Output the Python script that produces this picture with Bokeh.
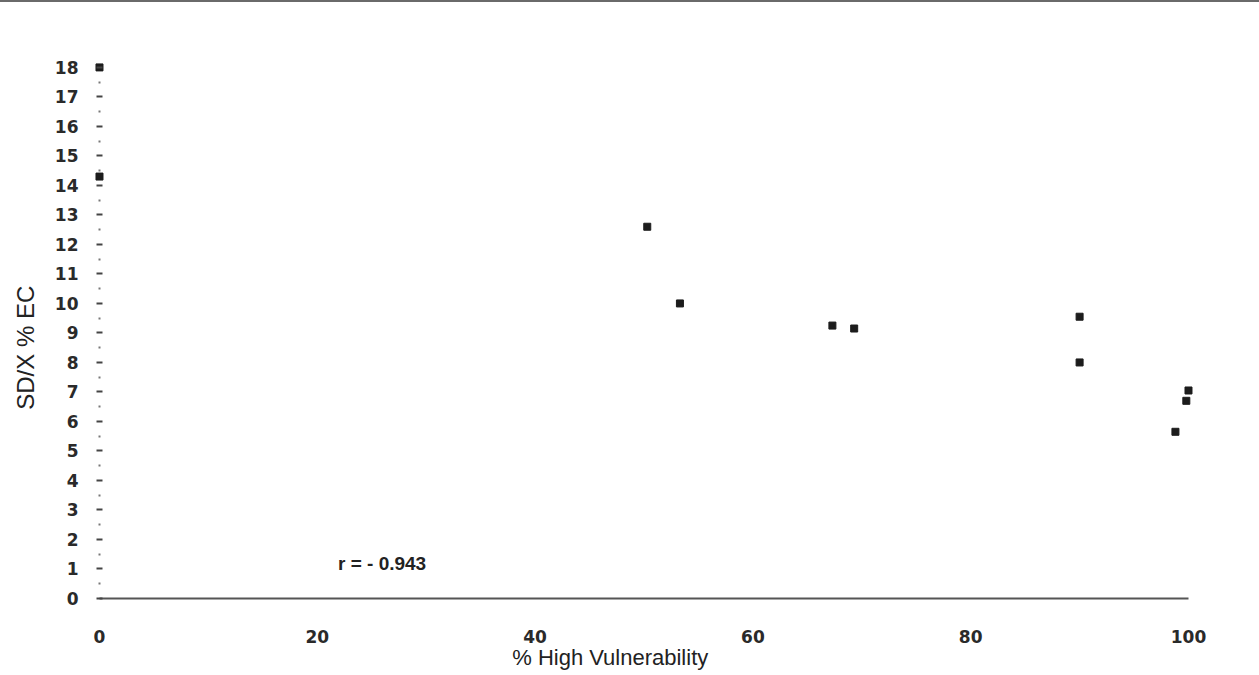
import math
from bokeh.plotting import figure
from bokeh.models import Range1d, FixedTicker, Label
from bokeh.embed import file_html
from bokeh.resources import INLINE

# data
vulnerability = [0, 0, 50.3, 53.3, 67.3, 69.3, 90, 90, 100, 99.8, 98.8]
sd_x_ec = [18.0, 14.3, 12.6, 10.0, 9.25, 9.15, 9.55, 8.0, 7.05, 6.7, 5.65]
x_ticks = [0, 20, 40, 60, 80, 100]
y_ticks = list(range(0, 19))
x_title = "% High Vulnerability"
y_title = "SD/X % EC"
r_text = "r = - 0.943"

p = figure(width=1259, height=673, output_backend="svg", toolbar_location=None,
           x_range=Range1d(-9.09, 106.52), y_range=Range1d(-2.61, 20.20),
           min_border=0)
p.styles = {"border-top": "2px solid #6a6a6a"}
p.outline_line_color = None
p.xgrid.visible = False
p.ygrid.visible = False
p.background_fill_color = "white"
p.border_fill_color = "white"

p.scatter(vulnerability, sd_x_ec, marker="square", size=7, color="#1c1c1c")

# x axis
xa = p.xaxis[0]
xa.fixed_location = 0
xa.ticker = FixedTicker(ticks=x_ticks)
xa.bounds = (0, 100)
xa.axis_line_color = "#555555"
xa.axis_line_width = 2
xa.major_tick_line_color = None
xa.minor_tick_line_color = None
xa.major_label_standoff = 26
xa.major_label_text_font = "DejaVu Sans"
xa.major_label_text_font_style = "bold"
xa.major_label_text_font_size = "17px"
xa.major_label_text_color = "#2a2a2a"

# y axis
ya = p.yaxis[0]
ya.fixed_location = 0
ya.ticker = FixedTicker(ticks=y_ticks, minor_ticks=[v + 0.5 for v in y_ticks[:-1]])
ya.bounds = (0, 18.5)
ya.axis_line_color = None
ya.major_tick_in = 3
ya.major_tick_out = 3
ya.major_tick_line_color = "#444444"
ya.major_tick_line_width = 2
ya.minor_tick_in = 1
ya.minor_tick_out = 1
ya.minor_tick_line_color = "#777777"
ya.minor_tick_line_width = 2
ya.major_label_standoff = 18
ya.major_label_text_font = "DejaVu Sans"
ya.major_label_text_font_style = "bold"
ya.major_label_text_font_size = "17px"
ya.major_label_text_color = "#2a2a2a"

p.add_layout(Label(x=46.9, y=-2.0, text=x_title, text_align="center", text_baseline="middle",
                   text_font="Liberation Sans", text_font_size="22px", text_color="#222222"))
p.add_layout(Label(x=-6.8, y=8.5, text=y_title, angle=math.pi / 2, text_align="center",
                   text_baseline="middle", text_font="Liberation Sans", text_font_size="24px",
                   text_color="#222222"))
p.add_layout(Label(x=21.9, y=1.19, text=r_text, text_align="left", text_baseline="alphabetic",
                   text_font="Liberation Sans", text_font_style="bold", text_font_size="19px",
                   text_color="#222222"))

open("out.html", "w").write(file_html(p, INLINE))
